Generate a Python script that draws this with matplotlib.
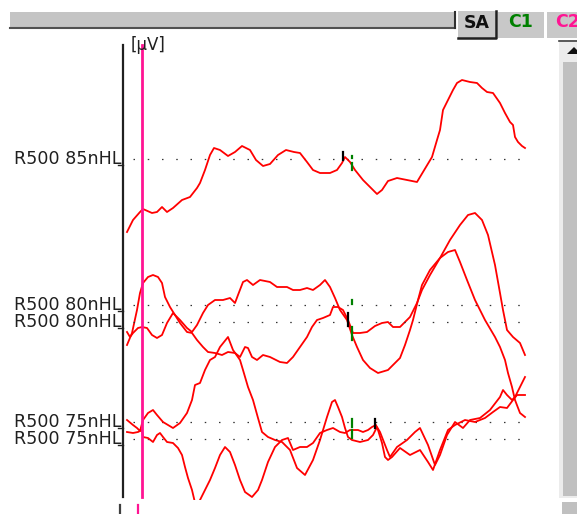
import numpy as np
from matplotlib import pyplot as plt
from matplotlib.patches import Rectangle, Polygon
from matplotlib.lines import Line2D

# time in ms, amplitude in uV (relative to each trace's baseline)
t85 = [-0.75, -0.45, -0.10, 0.05, 0.50, 0.75, 1.00, 1.25, 1.55, 2.00, 2.40, 2.75, 2.90, 3.15, 3.40, 3.60,
       3.90, 4.30, 4.65, 5.00, 5.40, 5.70, 6.05, 6.40, 6.80, 7.20, 7.60, 7.90, 8.25, 8.55, 8.90, 9.40,
       9.75, 10.00, 10.15, 10.40, 10.65, 11.05, 11.40, 11.75, 12.00, 12.30, 12.75, 13.25, 13.75, 14.05,
       14.50, 14.75, 14.90, 15.05, 15.30, 15.55, 15.75, 16.00, 16.40, 16.75, 17.00, 17.25, 17.55, 17.90,
       18.15, 18.40, 18.55, 18.65, 18.80, 19.00, 19.15]
a85 = [-0.73, -0.61, -0.53, -0.50, -0.54, -0.53, -0.48, -0.53, -0.49, -0.41, -0.38, -0.29, -0.24, -0.11,
       0.04, 0.11, 0.09, 0.03, 0.07, 0.13, 0.09, -0.01, -0.07, -0.05, 0.04, 0.09, 0.07, 0.06, -0.03, -0.11,
       -0.14, -0.14, -0.11, -0.04, 0.02, -0.03, -0.11, -0.21, -0.28, -0.35, -0.31, -0.22, -0.19, -0.21,
       -0.23, -0.13, 0.02, 0.19, 0.29, 0.49, 0.59, 0.69, 0.76, 0.79, 0.77, 0.76, 0.71, 0.67, 0.66, 0.56,
       0.46, 0.37, 0.34, 0.22, 0.17, 0.13, 0.11]

t80a = [-0.75, -0.50, -0.25, -0.10, 0.05, 0.30, 0.55, 0.80, 1.00, 1.15, 1.40, 1.65, 1.90, 2.25, 2.50, 2.75,
        3.05, 3.30, 3.65, 4.00, 4.30, 4.65, 4.90, 5.15, 5.30, 5.50, 5.75, 6.05, 6.40, 6.90, 7.25, 7.55,
        7.90, 8.25, 8.50, 8.75, 9.05, 9.40, 9.55, 9.80, 10.05, 10.30, 10.55, 10.90, 11.25, 11.65, 12.00,
        12.30, 12.55, 12.90, 13.15, 13.40, 13.75, 14.00, 14.40, 14.90, 15.40, 15.90, 16.30, 16.65, 17.00,
        17.30, 17.65, 17.90, 18.05, 18.25, 18.55, 18.90, 19.15]
a80a = [-0.40, -0.28, -0.05, 0.12, 0.22, 0.28, 0.30, 0.28, 0.22, 0.08, -0.02, -0.10, -0.18, -0.27, -0.28,
        -0.35, -0.42, -0.47, -0.48, -0.50, -0.47, -0.48, -0.52, -0.42, -0.43, -0.52, -0.55, -0.50, -0.52,
        -0.57, -0.58, -0.52, -0.42, -0.32, -0.22, -0.15, -0.13, -0.10, -0.02, -0.02, -0.05, -0.15, -0.28,
        -0.28, -0.27, -0.21, -0.18, -0.17, -0.22, -0.22, -0.17, -0.12, 0.02, 0.15, 0.30, 0.47, 0.65, 0.80,
        0.90, 0.92, 0.85, 0.70, 0.40, 0.12, -0.05, -0.25, -0.32, -0.38, -0.50]

t80b = [-0.75, -0.60, -0.45, -0.20, 0.00, 0.25, 0.50, 0.75, 1.00, 1.25, 1.55, 1.90, 2.25, 2.50, 2.75, 3.05,
        3.30, 3.65, 4.05, 4.40, 4.65, 4.80, 5.05, 5.25, 5.55, 5.90, 6.40, 6.75, 7.25, 7.55, 7.90, 8.25,
        8.55, 8.90, 9.15, 9.40, 9.65, 9.90, 10.25, 10.50, 10.75, 11.05, 11.40, 11.80, 12.30, 12.65, 12.90,
        13.15, 13.40, 13.55, 13.80, 14.00, 14.40, 14.90, 15.30, 15.65, 15.90, 16.25, 16.65, 17.15, 17.65,
        17.90, 18.15, 18.30, 18.50, 18.65, 18.90, 19.15]
a80b = [-0.10, -0.15, -0.11, -0.06, -0.05, -0.06, -0.13, -0.16, -0.13, -0.01, 0.09, 0.02, -0.06, -0.10,
        -0.03, 0.09, 0.17, 0.22, 0.22, 0.24, 0.19, 0.27, 0.40, 0.42, 0.37, 0.42, 0.40, 0.35, 0.35, 0.32,
        0.32, 0.34, 0.32, 0.37, 0.42, 0.35, 0.24, 0.12, 0.02, -0.13, -0.25, -0.38, -0.46, -0.51, -0.48,
        -0.41, -0.36, -0.23, -0.08, 0.02, 0.22, 0.37, 0.52, 0.64, 0.70, 0.72, 0.60, 0.42, 0.22, 0.02,
        -0.15, -0.25, -0.38, -0.51, -0.65, -0.78, -0.91, -0.95]

t75a = [-0.75, -0.45, -0.25, -0.10, 0.05, 0.30, 0.55, 0.75, 1.05, 1.30, 1.55, 1.90, 2.25, 2.50, 2.65, 2.90,
        3.15, 3.40, 3.65, 3.90, 4.30, 4.55, 4.90, 5.05, 5.30, 5.55, 5.80, 6.00, 6.30, 6.65, 7.00, 7.40,
        7.75, 8.15, 8.55, 8.90, 9.25, 9.50, 9.65, 9.80, 10.00, 10.15, 10.30, 10.50, 10.90, 11.30, 11.55,
        11.75, 11.90, 12.25, 12.40, 12.75, 13.25, 13.65, 13.90, 14.30, 14.65, 14.90, 15.25, 15.65, 16.05,
        16.40, 16.90, 17.40, 17.90, 18.05, 18.25, 18.50, 18.65, 18.90, 19.15]
a75a = [0.02, -0.03, -0.06, -0.09, 0.02, 0.09, 0.12, 0.07, 0.00, -0.03, -0.06, -0.01, 0.09, 0.22, 0.37,
        0.39, 0.52, 0.62, 0.65, 0.75, 0.85, 0.72, 0.62, 0.52, 0.35, 0.22, 0.04, -0.10, -0.15, -0.18, -0.20,
        -0.28, -0.46, -0.53, -0.38, -0.18, 0.05, 0.20, 0.22, 0.15, 0.05, -0.06, -0.15, -0.18, -0.20, -0.18,
        -0.13, -0.05, -0.10, -0.28, -0.35, -0.25, -0.18, -0.10, -0.06, -0.23, -0.43, -0.33, -0.13, 0.00,
        -0.06, 0.02, 0.04, 0.12, 0.25, 0.32, 0.27, 0.22, 0.25, 0.35, 0.45]

t75b = [-0.75, -0.45, -0.20, 0.00, 0.05, 0.30, 0.55, 0.75, 0.90, 1.05, 1.25, 1.55, 1.80, 2.00, 2.15, 2.30,
        2.50, 2.70, 2.90, 3.15, 3.40, 3.65, 3.90, 4.15, 4.40, 4.65, 4.90, 5.15, 5.50, 5.80, 6.00, 6.30,
        6.65, 7.00, 7.30, 7.55, 7.90, 8.25, 8.55, 8.90, 9.25, 9.55, 9.90, 10.15, 10.40, 10.80, 11.05,
        11.30, 11.50, 11.70, 11.80, 12.00, 12.15, 12.30, 12.50, 12.90, 13.40, 13.90, 14.30, 14.55, 14.90,
        15.30, 15.65, 16.15, 16.65, 17.15, 17.55, 17.90, 18.25, 18.55, 18.75, 19.15]
a75b = [0.07, 0.06, 0.07, 0.09, 0.02, 0.01, -0.03, 0.04, 0.06, 0.02, -0.03, -0.04, -0.09, -0.16, -0.28,
        -0.39, -0.51, -0.68, -0.61, -0.51, -0.41, -0.29, -0.16, -0.08, -0.13, -0.26, -0.41, -0.53, -0.58,
        -0.51, -0.41, -0.23, -0.08, -0.01, 0.01, -0.11, -0.08, -0.08, -0.04, 0.06, 0.09, 0.11, 0.07, 0.06,
        0.09, 0.09, 0.07, 0.09, 0.12, 0.14, 0.09, -0.04, -0.18, -0.21, -0.18, -0.09, -0.16, -0.11, -0.23,
        -0.31, -0.11, 0.09, 0.14, 0.19, 0.17, 0.21, 0.27, 0.32, 0.31, 0.39, 0.44, 0.44]

labels = ['R500 85nHL', 'R500 80nHL', 'R500 80nHL', 'R500 75nHL', 'R500 75nHL']
traces = [(t85, a85), (t80a, a80a), (t80b, a80b), (t75a, a75a), (t75b, a75b)]
offsets = [1.59, 3.05, 3.22, 4.22, 4.39]  # display stacking of baselines

# peak markers: (trace index, latency ms, amp from, amp to, colour)
marks = [(0, 10.05, 0.07, -0.01, 'k'), (0, 10.5, -0.04, -0.11, 'g'), (0, 10.5, 0.03, 0.01, 'g'),
         (1, 10.5, 0.05, 0.01, 'g'),
         (2, 10.3, 0.09, -0.04, 'k'), (2, 10.5, -0.05, -0.18, 'g'),
         (3, 10.5, 0.03, -0.05, 'g'), (3, 11.65, 0.03, -0.06, 'k'),
         (4, 10.5, 0.09, 0.01, 'g')]

W, H = 577, 514
pink = '#ff1493'
green = '#008000'


def fx(x):
    return x / W


def fy(y):
    return 1 - y / H


fig = plt.figure(figsize=(W / 100, H / 100), dpi=100)
ax = fig.add_axes([fx(123), fy(500), (557 - 123) / W, 460 / H])
ax.set_xlim(-0.95, 20.75)
ax.set_ylim(-5.00, -0.40)
ax.axis('off')

for (t, a), off, lab in zip(traces, offsets, labels):
    ax.plot([-0.45, 19.15], [-off, -off], color='#333333', lw=0.9,
            linestyle=(0, (1.2, 10.2)))
    ax.plot(t, np.array(a) - off, color='#ff0000', lw=1.3)
    ax.text(-1.05, -off, lab, ha='right', va='center', fontsize=12.6,
            family='DejaVu Sans', color='#202020', clip_on=False)
    ax.plot([-1.2, -0.95], [-off - 0.065, -off - 0.065], color='#202020', lw=1.0, clip_on=False)

for i, tm, y0, y1, c in marks:
    ax.plot([tm, tm], [y0 - offsets[i], y1 - offsets[i]], color=c, lw=1.6)

# stimulus onset line
ax.plot([0, 0], [-0.45, -4.97], color=pink, lw=2)
ax.text(-0.55, -0.45, '[µV]', ha='left', va='center', fontsize=12,
        family='DejaVu Sans', color='#202020')

# y axis line and lower ticks
fig.add_artist(Line2D([fx(123), fx(123)], [fy(45), fy(497)], color='#202020', lw=1.6))
fig.add_artist(Line2D([fx(120), fx(120)], [fy(505), fy(514)], color='#404040', lw=1.6))
fig.add_artist(Line2D([fx(138), fx(138)], [fy(505), fy(514)], color=pink, lw=1.6))

# top toolbar
fig.add_artist(Rectangle((fx(10), fy(28)), fx(445), 16 / H, facecolor='#c4c4c4', edgecolor='none'))
fig.add_artist(Line2D([fx(10), fx(455)], [fy(28), fy(28)], color='#505050', lw=1.5))
fig.add_artist(Line2D([fx(455), fx(455)], [fy(12), fy(28)], color='#303030', lw=1.5))
fig.add_artist(Rectangle((fx(458), fy(38)), fx(38), 27 / H, facecolor='#c8c8c8', edgecolor='none'))
fig.add_artist(Line2D([fx(458), fx(496), fx(496)], [fy(38), fy(38), fy(11)], color='#202020', lw=1.8))
fig.add_artist(Rectangle((fx(498), fy(38)), fx(46), 26 / H, facecolor='#c8c8c8', edgecolor='none'))
fig.add_artist(Rectangle((fx(547), fy(38)), fx(30), 26 / H, facecolor='#c8c8c8', edgecolor='none'))
fig.text(fx(477), fy(23), 'SA', ha='center', va='center', fontsize=12.5, fontweight='bold', color='#101010')
fig.text(fx(521), fy(22), 'C1', ha='center', va='center', fontsize=12.5, fontweight='bold', color=green)
fig.text(fx(555), fy(22), 'C2', ha='left', va='center', fontsize=12.5, fontweight='bold', color=pink)

# scrollbar
fig.add_artist(Rectangle((fx(559), fy(498)), fx(18), 458 / H, facecolor='#ececec', edgecolor='none'))
fig.add_artist(Rectangle((fx(563), fy(496)), fx(14), 434 / H, facecolor='#c0c0c0', edgecolor='none'))
fig.add_artist(Line2D([fx(559), fx(577)], [fy(41), fy(41)], color='#404040', lw=1.2))
fig.add_artist(Polygon([(fx(567), fy(54)), (fx(581), fy(54)), (fx(574), fy(47))],
                       closed=True, facecolor='#101010', edgecolor='none', clip_on=True))
fig.add_artist(Rectangle((fx(562), fy(514)), fx(15), 12 / H, facecolor='#c0c0c0', edgecolor='none'))

fig.savefig('out.png', dpi=100)
